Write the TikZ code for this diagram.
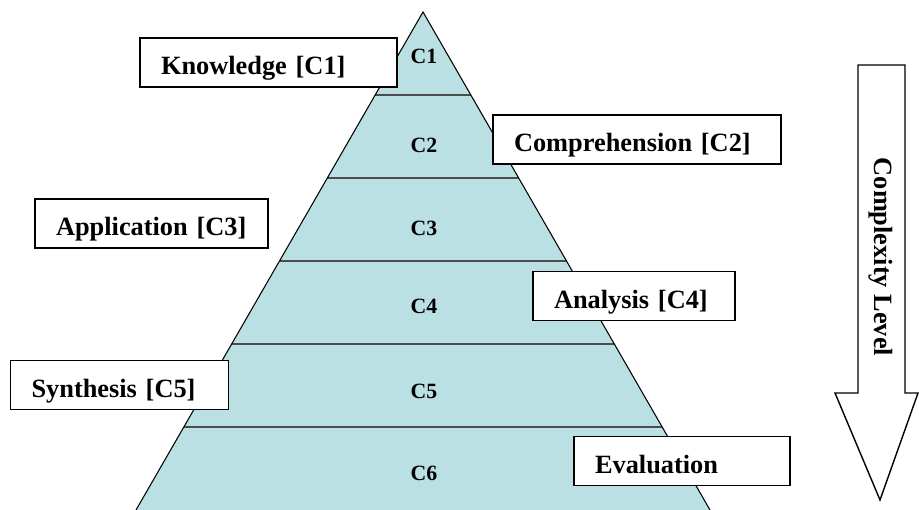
\documentclass[tikz,border=0pt]{standalone}
\usepackage{fontspec}
\setmainfont{Liberation Serif}
\usetikzlibrary{calc}
\definecolor{pyrblue}{RGB}{187,224,227}

\begin{document}
\begin{tikzpicture}[x = 0.02cm, y = -0.02cm,
	level/.style = {font=\fontsize{12.4}{14}\selectfont\bfseries},
	levelbox/.style = {draw, fill=white, line width=1pt, align=left, inner xsep=0.42cm, inner ysep=0pt, text height=0.74cm, text depth=0.24cm, font=\fontsize{15}{18}\selectfont\bfseries},
	divline/.style = {line width=1pt, draw=black!70}]
	\useasboundingbox (0, 0) rectangle (919, 510);
	\coordinate (apex) at (423, 12);
	\coordinate (bl) at (136, 510);
	\coordinate (br) at (710, 510);
	\fill[pyrblue] (apex) -- (bl) -- (br) -- cycle;
	\foreach \k in {1,...,5}
		\draw[divline] ($(apex)!\k/6!(bl)$) -- ($(apex)!\k/6!(br)$);
	\draw[line width=0.6pt] (bl) -- (apex) -- (br);
	\foreach \lv/\yy in {1/56, 2/145, 3/228, 4/306, 5/391, 6/473}
		\node[level] (c\lv) at (424, \yy){C\lv};
	\node[levelbox, text width=4.30cm] (know) at (268.5, 62.5){Knowledge [C1]};
	\node[levelbox, text width=4.92cm] (comp) at (637, 139.5){Comprehension [C2]};
	\node[levelbox, text width=3.82cm] (appl) at (151.5, 223.5){Application [C3]};
	\node[levelbox, text width=3.20cm] (anal) at (634, 296){Analysis [C4]};
	\node[levelbox, text width=3.52cm] (synth) at (119.5, 385){Synthesis [C5]};
	\node[levelbox, text width=3.48cm] (eval) at (682, 461){Evaluation};
	\draw[line width=0.8pt] (858, 65) -- (905, 65) -- (905, 393) -- (918, 393) -- (880, 500) -- (835, 393) -- (858, 393) -- cycle;
	\node[rotate=-90, font=\fontsize{15}{18}\selectfont\bfseries] (cplx) at (881, 257){Complexity Level};
\end{tikzpicture}
\end{document}
